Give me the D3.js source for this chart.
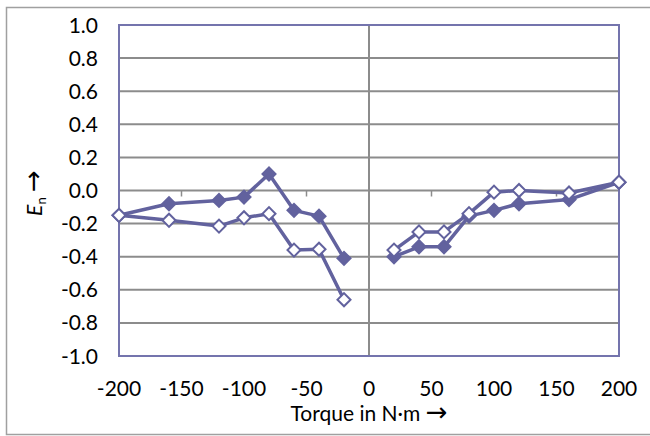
<!DOCTYPE html>
<html>
<head>
<meta charset="utf-8">
<script src="https://cdn.jsdelivr.net/npm/d3@7"></script>
<style>
  body { margin: 0; background: #fff; }
  text { font-family: Lato, "Open Sans", sans-serif; fill: #000; }
</style>
</head>
<body>
<div id="chart"></div>
<script>
// torque values (N·m)
let torque = [-200, -160, -120, -100, -80, -60, -40, -20, 20, 40, 60, 80, 100, 120, 160, 200];
// filled diamonds
let seriesFilled = [-0.15, -0.08, -0.06, -0.04, 0.10, -0.12, -0.155, -0.41, -0.40, -0.34, -0.34, -0.155, -0.12, -0.08, -0.055, 0.05];
// open diamonds
let seriesOpen = [-0.15, -0.18, -0.215, -0.165, -0.14, -0.36, -0.355, -0.66, -0.36, -0.25, -0.25, -0.14, -0.01, 0.0, -0.015, 0.05];
let xTicks = [-200, -150, -100, -50, 0, 50, 100, 150, 200];
let yTicks = [-1.0, -0.8, -0.6, -0.4, -0.2, 0.0, 0.2, 0.4, 0.6, 0.8, 1.0];

let width = 650, height = 436;
let margin = {top: 25, right: 31, bottom: 80, left: 119};
let lineColor = "#62629e";

let svg = d3.select("#chart").append("svg")
    .attr("width", width)
    .attr("height", height);

// outer frame
svg.append("rect")
    .attr("x", 6.5).attr("y", 7.5)
    .attr("width", 660).attr("height", 427)
    .attr("fill", "none")
    .attr("stroke", "#a0a0a0")
    .attr("stroke-width", 1.5);

let x = d3.scaleLinear().domain([-200, 200]).range([margin.left, width - margin.right]);
let y = d3.scaleLinear().domain([-1, 1]).range([height - margin.bottom, margin.top]);

// horizontal gridlines
svg.append("g").selectAll("line").data(yTicks).enter().append("line")
    .attr("x1", x(-200)).attr("x2", x(200))
    .attr("y1", d => y(d)).attr("y2", d => y(d))
    .attr("stroke", "#8c8c8c")
    .attr("stroke-width", 2);

// vertical axis line at 0
svg.append("line")
    .attr("x1", x(0)).attr("x2", x(0))
    .attr("y1", y(1)).attr("y2", y(-1))
    .attr("stroke", "#8c8c8c")
    .attr("stroke-width", 2);

// ticks on the x axis (at y = 0)
svg.append("g").selectAll("line").data(xTicks).enter().append("line")
    .attr("x1", d => x(d)).attr("x2", d => x(d))
    .attr("y1", y(0)).attr("y2", y(0) + 6)
    .attr("stroke", "#8c8c8c")
    .attr("stroke-width", 1.5);

// plot area border
svg.append("rect")
    .attr("x", x(-200)).attr("y", y(1))
    .attr("width", x(200) - x(-200))
    .attr("height", y(-1) - y(1))
    .attr("fill", "none")
    .attr("stroke", "#7474ad")
    .attr("stroke-width", 2);

// y tick labels
svg.append("g").selectAll("text").data(yTicks).enter().append("text")
    .attr("x", 98)
    .attr("y", d => y(d))
    .attr("dy", "0.36em")
    .attr("text-anchor", "end")
    .style("font-size", "21px")
    .text(d => d.toFixed(1));

// x tick labels
svg.append("g").selectAll("text").data(xTicks).enter().append("text")
    .attr("x", d => x(d))
    .attr("y", 396)
    .attr("text-anchor", "middle")
    .style("font-size", "21px")
    .text(d => String(d));

// axis titles
let xlab = svg.append("text")
    .attr("x", x(0))
    .attr("y", 421)
    .attr("text-anchor", "middle")
    .style("font-size", "21px");
xlab.append("tspan").text("Torque in N\u00b7m ");
xlab.append("tspan").style("font-family", "DejaVu Sans").style("font-size", "26px").text("\u2192");

let ylab = svg.append("text")
    .attr("transform", "translate(42," + 193 + ") rotate(-90)")
    .attr("text-anchor", "middle")
    .style("font-size", "21px");
ylab.append("tspan").style("font-style", "italic").text("E");
ylab.append("tspan").attr("dy", 4).style("font-size", "13px").text("n");
ylab.append("tspan").attr("dy", -4).text(" ");
ylab.append("tspan").style("font-family", "DejaVu Sans").style("font-size", "26px").text("\u2192");

// series
let line = d3.line().x(d => x(d.t)).y(d => y(d.v));
let diamond = d3.symbol().type(d3.symbolSquare).size(85);

function drawSeries(values, fill) {
    let pts = torque.map((t, i) => ({t: t, v: values[i]}));
    let g = svg.append("g");
    [pts.filter(d => d.t < 0), pts.filter(d => d.t > 0)].forEach(part => {
        g.append("path")
            .attr("d", line(part))
            .attr("fill", "none")
            .attr("stroke", lineColor)
            .attr("stroke-width", 3.5)
            .attr("stroke-linejoin", "round");
    });
    g.selectAll(".pt").data(pts).enter().append("path")
        .attr("class", "pt")
        .attr("d", diamond)
        .attr("transform", d => "translate(" + x(d.t) + "," + y(d.v) + ") rotate(45)")
        .attr("fill", fill)
        .attr("stroke", lineColor)
        .attr("stroke-width", 2);
}

drawSeries(seriesFilled, lineColor);
drawSeries(seriesOpen, "#ffffff");
</script>
</body>
</html>
